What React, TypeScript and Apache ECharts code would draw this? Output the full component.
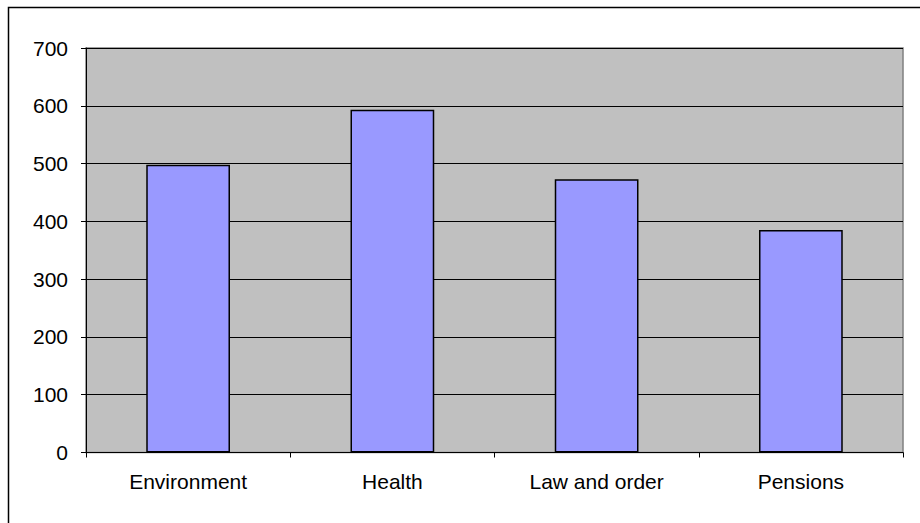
import React, { useEffect, useRef } from "react";
import * as echarts from "echarts";

const categories = ["Environment", "Health", "Law and order", "Pensions"];
const values = [498, 593, 473, 385];
const yTicks = [0, 100, 200, 300, 400, 500, 600, 700];

export default function App() {
  const ref = useRef<HTMLDivElement>(null);
  useEffect(() => {
    if (!ref.current) return;
    const chart = echarts.init(ref.current, null, { renderer: "svg" });
    chart.setOption({
      animation: false,
      backgroundColor: "#ffffff",
      textStyle: { fontFamily: "Liberation Sans, Arial, sans-serif" },
      graphic: [
        {
          type: "rect",
          shape: { x: 8.5, y: 7.5, width: 1000, height: 1000 },
          style: { fill: "none", stroke: "#000000", lineWidth: 1.5 },
          silent: true,
        },
      ],
      grid: {
        left: 86,
        right: 17,
        top: 48,
        bottom: 70.5,
        show: true,
        backgroundColor: "#C0C0C0",
        borderColor: "#808080",
        borderWidth: 1.5,
      },
      xAxis: {
        type: "category",
        data: categories,
        axisLine: { show: true, lineStyle: { color: "#000000", width: 1 } },
        axisTick: { show: true, length: 5, alignWithLabel: false, lineStyle: { color: "#000000" } },
        axisLabel: { color: "#000000", fontSize: 21, margin: 18 },
      },
      yAxis: {
        type: "value",
        min: yTicks[0],
        max: yTicks[yTicks.length - 1],
        interval: 100,
        axisLine: { show: true, lineStyle: { color: "#000000", width: 1 } },
        axisTick: { show: true, length: 5, lineStyle: { color: "#000000" } },
        axisLabel: { color: "#000000", fontSize: 21, margin: 18 },
        splitLine: { show: true, lineStyle: { color: "#000000", width: 1 } },
      },
      series: [
        {
          type: "bar",
          data: values,
          barWidth: "41%",
          itemStyle: { color: "#9999FF", borderColor: "#000000", borderWidth: 1.5 },
        },
      ],
    });
    return () => chart.dispose();
  }, []);
  return (
    <div
      ref={ref}
      style={{ position: "absolute", left: 0, top: 0, width: 920, height: 523 }}
    />
  );
}
